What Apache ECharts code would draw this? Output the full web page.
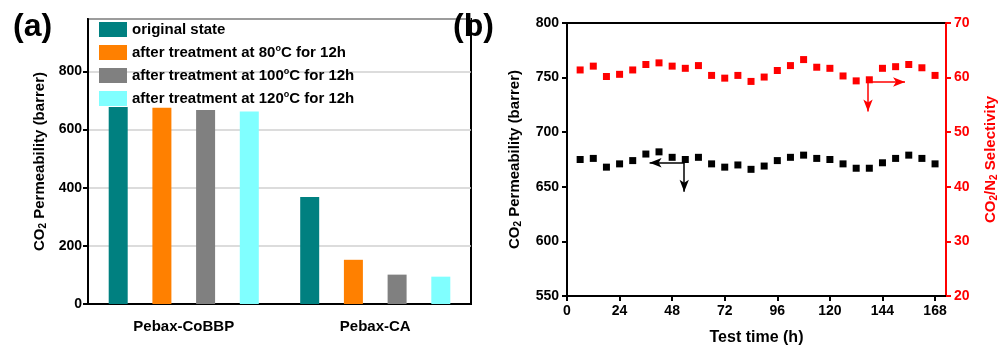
<!DOCTYPE html>
<html>
<head>
<meta charset="utf-8">
<script src="https://cdn.jsdelivr.net/npm/echarts@6/dist/echarts.min.js"></script>
<style>
  html, body { margin: 0; padding: 0; background: #fff; }
  #chart { width: 1000px; height: 351px; }
</style>
</head>
<body>
<div id="chart"></div>
<script>
// panel (a)
var categories = ['Pebax-CoBBP', 'Pebax-CA'];
var originalState = [677, 368];
var treated80 = [675, 152];
var treated100 = [667, 101];
var treated120 = [662, 94];

// panel (b)
var hours = [6, 12, 18, 24, 30, 36, 42, 48, 54, 60, 66, 72, 78, 84,
  90, 96, 102, 108, 114, 120, 126, 132, 138, 144, 150, 156, 162, 168];
var permeability = [675, 676, 668, 671, 674, 680, 682, 677, 675, 677, 671, 668, 670, 666,
  669, 674, 677, 679, 676, 675, 671, 667, 667, 672, 676, 679, 676, 671];
var selectivity = [61.4, 62.1, 60.2, 60.6, 61.4, 62.4, 62.7, 62.1, 61.7, 62.2, 60.4, 59.9, 60.4, 59.3,
  60.1, 61.3, 62.2, 63.3, 61.9, 61.7, 60.3, 59.4, 59.6, 61.7, 62.0, 62.4, 61.8, 60.4];

var font = 'Arial, "Liberation Sans", sans-serif';
var barColors = ['#008080', '#ff8000', '#808080', '#80ffff'];
var subStyle = { fontSize: 10, fontWeight: 'bold', fontFamily: font, padding: [7, 0, 0, 0] };

var chart = echarts.init(document.getElementById('chart'));

function bar(name, data, color) {
  return {
    name: name, type: 'bar', data: data, xAxisIndex: 0, yAxisIndex: 0,
    barWidth: 19, barGap: '130%',
    itemStyle: { color: color }
  };
}

chart.setOption({
  animation: false,
  textStyle: { fontFamily: font },
  title: [
    { text: '(a)', left: 8, top: 6, textStyle: { fontSize: 32, fontWeight: 'bold', fontFamily: font, color: '#000' } },
    { text: '(b)', left: 448, top: 6, textStyle: { fontSize: 32, fontWeight: 'bold', fontFamily: font, color: '#000' } }
  ],
  legend: {
    data: ['original state', 'after treatment at 80°C for 12h', 'after treatment at 100°C for 12h', 'after treatment at 120°C for 12h'],
    orient: 'vertical', left: 94, top: 17,
    itemWidth: 28, itemHeight: 15, itemGap: 7,
    icon: 'rect',
    formatter: function (n) { return n.replace('°', '{sup|o}'); },
    textStyle: {
      fontSize: 15, fontWeight: 'bold', color: '#000', fontFamily: font,
      rich: { sup: { fontSize: 9, fontWeight: 'bold', fontFamily: font, padding: [0, 0, 8, 0] } }
    }
  },
  grid: [
    { left: 88, top: 19, width: 383, height: 285, show: true, borderColor: '#000', borderWidth: 2, backgroundColor: 'transparent' },
    { left: 567, top: 23, width: 380, height: 278, show: true, borderColor: '#000', borderWidth: 2, backgroundColor: 'transparent' }
  ],
  xAxis: [
    {
      type: 'category', gridIndex: 0, data: categories,
      axisLine: { lineStyle: { color: '#000', width: 2 } },
      axisTick: { show: false },
      axisLabel: { color: '#000', fontSize: 15, fontWeight: 'bold', margin: 15 }
    },
    {
      type: 'value', gridIndex: 1, min: 0, max: 173, interval: 24,
      name: 'Test time (h)', nameLocation: 'middle', nameGap: 34,
      nameTextStyle: { color: '#000', fontSize: 16, fontWeight: 'bold' },
      axisLine: { lineStyle: { color: '#000', width: 2 } },
      axisTick: { show: true, length: 5, lineStyle: { width: 2 } },
      splitLine: { show: false },
      axisLabel: { color: '#000', fontSize: 14, fontWeight: 'bold', margin: 8, showMaxLabel: false }
    }
  ],
  yAxis: [
    {
      type: 'value', gridIndex: 0, min: 0, max: 980, interval: 200,
      name: 'CO{sub|2} Permeability (barrer)', nameLocation: 'middle', nameGap: 40,
      nameTextStyle: { color: '#000', fontSize: 15, fontWeight: 'bold', rich: { sub: subStyle } },
      axisLine: { show: true, lineStyle: { color: '#000', width: 2 } },
      axisTick: { show: true, length: 5, lineStyle: { width: 2 } },
      splitLine: { show: true, lineStyle: { color: '#d0d0d0', width: 1.5 } },
      axisLabel: { color: '#000', fontSize: 14, fontWeight: 'bold', margin: 6, showMaxLabel: false }
    },
    {
      type: 'value', gridIndex: 1, min: 550, max: 800, interval: 50,
      name: 'CO{sub|2} Permeability (barrer)', nameLocation: 'middle', nameGap: 44,
      nameTextStyle: { color: '#000', fontSize: 15, fontWeight: 'bold', rich: { sub: subStyle } },
      axisLine: { show: true, lineStyle: { color: '#000', width: 2 } },
      axisTick: { show: true, length: 5, lineStyle: { width: 2 } },
      splitLine: { show: false },
      axisLabel: { color: '#000', fontSize: 14, fontWeight: 'bold', margin: 8 }
    },
    {
      type: 'value', gridIndex: 1, position: 'right', min: 20, max: 70, interval: 10,
      name: 'CO{sub|2}/N{sub|2} Selectivity', nameLocation: 'middle', nameGap: 36,
      nameRotate: 90,
      nameTextStyle: { color: '#ff0000', fontSize: 15, fontWeight: 'bold',
        rich: { sub: { fontSize: 10, fontWeight: 'bold', fontFamily: font, color: '#ff0000', padding: [7, 0, 0, 0] } } },
      axisLine: { show: true, lineStyle: { color: '#ff0000', width: 2 } },
      axisTick: { show: true, length: 5, lineStyle: { width: 2 } },
      splitLine: { show: false },
      axisLabel: { color: '#ff0000', fontSize: 14, fontWeight: 'bold', margin: 8 }
    }
  ],
  series: [
    bar('original state', originalState, barColors[0]),
    bar('after treatment at 80°C for 12h', treated80, barColors[1]),
    bar('after treatment at 100°C for 12h', treated100, barColors[2]),
    bar('after treatment at 120°C for 12h', treated120, barColors[3]),
    {
      name: 'permeability', type: 'scatter', xAxisIndex: 1, yAxisIndex: 1,
      data: hours.map(function (h, i) { return [h, permeability[i]]; }),
      symbol: 'rect', symbolSize: 7, itemStyle: { color: '#000', opacity: 1 },
      markLine: {
        silent: true, symbol: ['none', 'arrow'], symbolSize: [7, 12],
        label: { show: false },
        lineStyle: { color: '#000', width: 1.5, type: 'solid', opacity: 1 },
        data: [
          [{ coord: [53.5, 672] }, { coord: [37.7, 672] }],
          [{ coord: [53.5, 672] }, { coord: [53.5, 645.5] }]
        ]
      }
    },
    {
      name: 'selectivity', type: 'scatter', xAxisIndex: 1, yAxisIndex: 2,
      data: hours.map(function (h, i) { return [h, selectivity[i]]; }),
      symbol: 'rect', symbolSize: 7, itemStyle: { color: '#ff0000', opacity: 1 },
      markLine: {
        silent: true, symbol: ['none', 'arrow'], symbolSize: [7, 12],
        label: { show: false },
        lineStyle: { color: '#ff0000', width: 1.5, type: 'solid', opacity: 1 },
        data: [
          [{ coord: [137.4, 59.2] }, { coord: [154.3, 59.2] }],
          [{ coord: [137.4, 59.2] }, { coord: [137.4, 53.8] }]
        ]
      }
    }
  ]
});
</script>
</body>
</html>
